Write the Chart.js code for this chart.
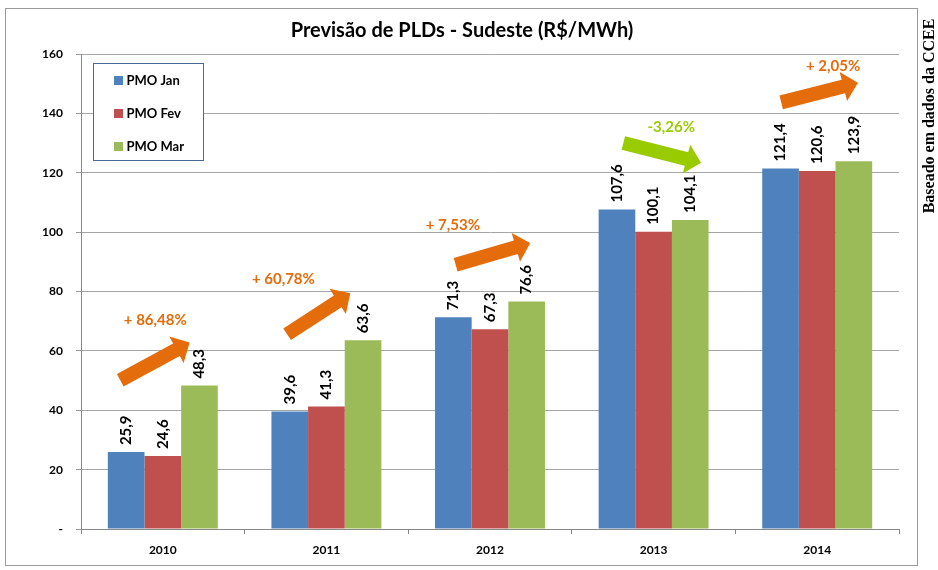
<!DOCTYPE html>
<html>
<head>
<meta charset="utf-8">
<script src="https://cdn.jsdelivr.net/npm/chart.js@4/dist/chart.umd.min.js"></script>
<style>
  html, body { margin: 0; padding: 0; background: #ffffff; }
  #wrap { width: 938px; height: 570px; position: relative; }
</style>
</head>
<body>
<div id="wrap"><canvas id="c" width="938" height="570"></canvas></div>
<script>
// ---- Data ----
const categories = ['2010', '2011', '2012', '2013', '2014'];
const seriesNames = ['PMO Jan', 'PMO Fev', 'PMO Mar'];
const pmoJan = [25.9, 39.6, 71.3, 107.6, 121.4];
const pmoFev = [24.6, 41.3, 67.3, 100.1, 120.6];
const pmoMar = [48.3, 63.6, 76.6, 104.1, 123.9];
const yTickValues = [0, 20, 40, 60, 80, 100, 120, 140, 160];
const changeLabels = ['+ 86,48%', '+ 60,78%', '+ 7,53%', '-3,26%', '+ 2,05%'];
const changeIsUp = [true, true, true, false, true];
// arrow annotations in data units (category index offset, value)
const arrowFromCat = [-0.26, 0.76, 1.79, 2.815, 3.78];
const arrowFromVal = [50.1, 65.6, 89.0, 130.0, 143.7];
const arrowToCat = [0.164, 1.146, 2.246, 3.29, 4.249];
const arrowToVal = [62.8, 79.4, 96.3, 123.4, 150.3];
const labelCat = [-0.046, 0.737, 1.773, 3.108, 4.097];
const labelVal = [70.4, 84.0, 102.4, 135.4, 155.9];
const titleText = 'Previsão de PLDs - Sudeste (R$/MWh)';
const sideText = 'Baseado em dados da CCEE';

const COLORS = ['#4F81BD', '#C0504D', '#9BBB59'];
const ORANGE = '#E46C0A';
const LIME = '#99CC00';
const FONT = 'Lato, "Open Sans", sans-serif';

function fmt(v) { return v.toFixed(1).replace('.', ','); }

const decorPlugin = {
  id: 'decor',
  beforeDraw(chart) {
    const ctx = chart.ctx;
    ctx.save();
    ctx.fillStyle = '#ffffff';
    ctx.fillRect(0, 0, chart.width, chart.height);
    ctx.restore();
  },
  afterDraw(chart) {
    const ctx = chart.ctx;
    const ca = chart.chartArea;
    const xs = chart.scales.x, ys = chart.scales.y;
    ctx.save();
    // outer border
    ctx.strokeStyle = '#9a9a9a';
    ctx.lineWidth = 1;
    ctx.strokeRect(5.5, 8.5, 912, 557);
    // title
    ctx.fillStyle = '#000';
    ctx.font = 'bold 20px ' + FONT;
    ctx.textAlign = 'center';
    ctx.textBaseline = 'middle';
    ctx.fillText(titleText, 462, 31);
    // side text
    ctx.save();
    ctx.translate(930, 116);
    ctx.rotate(-Math.PI / 2);
    ctx.font = 'bold 16px "Liberation Serif", "DejaVu Serif", serif';
    ctx.fillText(sideText, 0, 0);
    ctx.restore();

    // data labels
    ctx.font = 'bold 15px ' + FONT;
    chart.data.datasets.forEach((ds, di) => {
      const meta = chart.getDatasetMeta(di);
      meta.data.forEach((bar, i) => {
        ctx.save();
        ctx.translate(bar.x, bar.y - 7);
        ctx.rotate(-Math.PI / 2);
        ctx.textAlign = 'left';
        ctx.textBaseline = 'middle';
        ctx.fillStyle = '#000';
        ctx.fillText(fmt(ds.data[i]), 0, 0);
        ctx.restore();
      });
    });

    // arrows and change labels
    const catPx = (c) => {
      const base = xs.getPixelForValue(0);
      const step = xs.getPixelForValue(1) - base;
      return base + c * step;
    };
    for (let i = 0; i < changeLabels.length; i++) {
      const color = changeIsUp[i] ? ORANGE : LIME;
      const x1 = catPx(arrowFromCat[i]), y1 = ys.getPixelForValue(arrowFromVal[i]);
      const x2 = catPx(arrowToCat[i]), y2 = ys.getPixelForValue(arrowToVal[i]);
      const dx = x2 - x1, dy = y2 - y1;
      const len = Math.hypot(dx, dy);
      const ux = dx / len, uy = dy / len;
      const nx = -uy, ny = ux;
      const sw = 7, hw = 15, hl = 15;
      const bx = x2 - ux * hl, by = y2 - uy * hl;
      ctx.beginPath();
      ctx.moveTo(x1 + nx * sw, y1 + ny * sw);
      ctx.lineTo(bx + nx * sw, by + ny * sw);
      ctx.lineTo(bx + nx * hw, by + ny * hw);
      ctx.lineTo(x2, y2);
      ctx.lineTo(bx - nx * hw, by - ny * hw);
      ctx.lineTo(bx - nx * sw, by - ny * sw);
      ctx.lineTo(x1 - nx * sw, y1 - ny * sw);
      ctx.closePath();
      ctx.fillStyle = color;
      ctx.fill();
      ctx.font = 'bold 15px ' + FONT;
      ctx.textAlign = 'center';
      ctx.textBaseline = 'middle';
      ctx.fillText(changeLabels[i], catPx(labelCat[i]), ys.getPixelForValue(labelVal[i]));
    }

    // legend box
    const lx = ca.left + 12.5, ly = ca.top + 9.5;
    ctx.fillStyle = '#fff';
    ctx.fillRect(lx, ly, 110, 97);
    ctx.strokeStyle = '#4a6a96';
    ctx.lineWidth = 1;
    ctx.strokeRect(lx, ly, 110, 97);
    ctx.font = 'bold 13px ' + FONT;
    ctx.textAlign = 'left';
    ctx.textBaseline = 'middle';
    chart.data.datasets.forEach((ds, di) => {
      const cy = ly + 17 + di * 33;
      ctx.fillStyle = ds.backgroundColor;
      ctx.fillRect(lx + 20.5, cy - 4.5, 9, 9);
      ctx.fillStyle = '#000';
      ctx.fillText(ds.label, lx + 33, cy);
    });
    ctx.restore();
  }
};

new Chart(document.getElementById('c'), {
  type: 'bar',
  data: {
    labels: categories,
    datasets: [
      { label: seriesNames[0], data: pmoJan, backgroundColor: COLORS[0] },
      { label: seriesNames[1], data: pmoFev, backgroundColor: COLORS[1] },
      { label: seriesNames[2], data: pmoMar, backgroundColor: COLORS[2] }
    ]
  },
  options: {
    responsive: false,
    animation: false,
    layout: { padding: { top: 54, right: 39, bottom: 0, left: 0 } },
    datasets: { bar: { categoryPercentage: 0.672, barPercentage: 1.0 } },
    plugins: { legend: { display: false }, title: { display: false }, tooltip: { enabled: false } },
    scales: {
      x: {
        afterFit(s) { s.height = 41; },
        grid: { display: true, drawOnChartArea: false, drawTicks: true, tickLength: 5, color: '#888' },
        border: { display: true, color: '#888', width: 1 },
        ticks: { color: '#000', font: { family: FONT, size: 12, weight: 'bold' }, padding: 9 }
      },
      y: {
        min: 0, max: 160,
        afterFit(s) { s.width = 81; },
        afterBuildTicks(s) { s.ticks = yTickValues.map(v => ({ value: v })); },
        grid: { color: '#a6a6a6', borderDash: [4, 3], tickBorderDash: [], tickColor: '#999', tickLength: 5 },
        border: { display: true, color: '#888', width: 1 },
        ticks: {
          color: '#000', padding: 13,
          font: { family: FONT, size: 12, weight: 'bold' },
          callback: (v) => v === 0 ? '-' : String(v)
        }
      }
    }
  },
  plugins: [decorPlugin]
});
</script>
</body>
</html>
